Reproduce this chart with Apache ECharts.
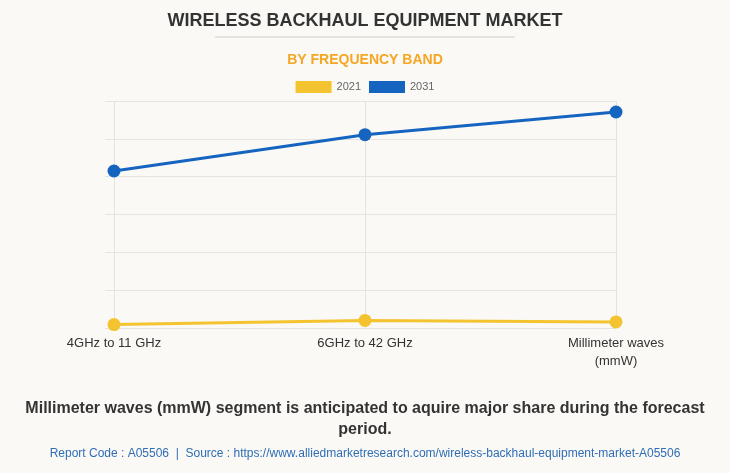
<!DOCTYPE html>
<html lang="en">
<head>
    <meta charset="UTF-8">
    <title>Wireless Backhaul Equipment Market</title>
    <script src="https://cdn.jsdelivr.net/npm/echarts@6/dist/echarts.min.js"></script>
    <style>
        html, body { margin: 0; padding: 0; background: #faf9f5; }
        #main { width: 730px; height: 473px; }
    </style>
</head>
<body>
<div id="main"></div>
<script>
    // data
    var categories = ['4GHz to 11 GHz', '6GHz to 42 GHz', 'Millimeter waves\n(mmW)'];
    var years = ['2021', '2031'];
    var values2021 = [0.09, 0.2, 0.16];
    var values2031 = [4.15, 5.11, 5.71];

    var myChart = echarts.init(document.getElementById('main'));

    var option = {
        backgroundColor: '#faf9f5',
        title: [
            {
                text: 'WIRELESS BACKHAUL EQUIPMENT MARKET',
                left: 'center',
                top: 7,
                textStyle: { color: '#333', fontSize: 18, fontWeight: 'bold', fontFamily: 'Arial' }
            },
            {
                text: 'BY FREQUENCY BAND',
                left: 'center',
                top: 48,
                textStyle: { color: '#f5a623', fontSize: 14, fontWeight: 'bold', fontFamily: 'Arial' }
            }
        ],
        legend: {
            top: 76,
            left: 'center',
            itemWidth: 36,
            itemHeight: 12,
            itemGap: 8,
            icon: 'rect',
            data: years,
            textStyle: { color: '#666', fontSize: 11, fontFamily: 'Arial' }
        },
        color: ['#f4c430', '#1565c0'],
        grid: { left: 114, right: 114, top: 101, bottom: 145 },
        xAxis: {
            type: 'category',
            boundaryGap: false,
            data: categories,
            axisLine: { show: false },
            axisTick: { show: false },
            splitLine: { show: true, lineStyle: { color: '#e4e4e2' } },
            axisLabel: { color: '#333', fontSize: 13, fontFamily: 'Arial', margin: 6, lineHeight: 18 }
        },
        yAxis: {
            type: 'value',
            min: 0,
            max: 6,
            interval: 1,
            axisLine: { show: false },
            axisTick: { show: true, length: 9, lineStyle: { color: '#e4e4e2' } },
            axisLabel: { show: false },
            splitLine: { lineStyle: { color: '#e4e4e2' } }
        },
        series: [
            {
                name: years[0],
                type: 'line',
                data: values2021,
                symbol: 'circle',
                symbolSize: 13,
                lineStyle: { width: 3 }
            },
            {
                name: years[1],
                type: 'line',
                data: values2031,
                symbol: 'circle',
                symbolSize: 13,
                lineStyle: { width: 3 }
            }
        ],
        graphic: [
            {
                type: 'line',
                shape: { x1: 215, y1: 37, x2: 515, y2: 37 },
                style: { stroke: '#cfcfcf', lineWidth: 1 }
            },
            {
                type: 'text',
                left: 'center',
                top: 398,
                style: {
                    text: 'Millimeter waves (mmW) segment is anticipated to aquire major share during the forecast\nperiod.',
                    fill: '#333',
                    font: 'bold 16px Arial',
                    textAlign: 'center',
                    lineHeight: 21
                }
            },
            {
                type: 'text',
                left: 'center',
                top: 448,
                style: {
                    text: 'Report Code : A05506  |  Source : https://www.alliedmarketresearch.com/wireless-backhaul-equipment-market-A05506',
                    fill: '#2f6db5',
                    font: '12px "Liberation Sans Narrow", Arial',
                    textAlign: 'center'
                }
            }
        ]
    };

    myChart.setOption(option);
</script>
</body>
</html>
